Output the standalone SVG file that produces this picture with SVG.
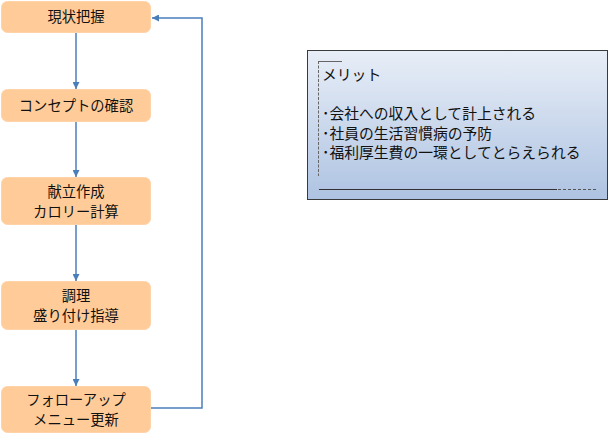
<svg xmlns="http://www.w3.org/2000/svg" width="611" height="434" viewBox="0 0 611 434">
<defs>
<style>
.box{fill:#ffcc99;stroke:#ffd3a8;stroke-width:1}
.t{font-family:"Noto Sans CJK JP","Noto Sans CJK SC",sans-serif;font-size:14.3px;fill:#111;text-anchor:middle}
.m{font-family:"Noto Sans CJK JP","Noto Sans CJK SC",sans-serif;font-size:14.8px;fill:#111}
.c{fill:none;stroke:#4a7ebb;stroke-width:1.5}
</style>
<marker id="ah" viewBox="0 0 10 10" refX="10" refY="5" markerWidth="7" markerHeight="7" markerUnits="userSpaceOnUse" orient="auto">
<path d="M0,0 L10,5 L0,10 z" fill="#4a7ebb"/>
</marker>
<linearGradient id="g" x1="0" y1="0" x2="0" y2="1">
<stop offset="0" stop-color="#e8eef7"/>
<stop offset="1" stop-color="#aec3e2"/>
</linearGradient>
</defs>
<g id="connectors">
<line class="c" x1="76" y1="33" x2="76" y2="89" marker-end="url(#ah)"/>
<line class="c" x1="76" y1="122" x2="76" y2="177" marker-end="url(#ah)"/>
<line class="c" x1="76" y1="225" x2="76" y2="281" marker-end="url(#ah)"/>
<line class="c" x1="76" y1="330" x2="76" y2="386" marker-end="url(#ah)"/>
<polyline class="c" points="151,408 202,408 202,18 152,18" marker-end="url(#ah)"/>
</g>
<g id="n1"><rect class="box" x="1.5" y="1.5" width="149" height="31" rx="6"/><text class="t" x="76" y="22">現状把握</text></g>
<g id="n2"><rect class="box" x="1.5" y="89.5" width="149" height="32" rx="6"/><text class="t" x="76" y="110.5">コンセプトの確認</text></g>
<g id="n3"><rect class="box" x="1.5" y="177.5" width="149" height="47" rx="6"/><text class="t" x="76" y="197">献立作成</text><text class="t" x="76" y="217">カロリー計算</text></g>
<g id="n4"><rect class="box" x="1.5" y="281.5" width="149" height="48" rx="6"/><text class="t" x="76" y="301">調理</text><text class="t" x="76" y="321">盛り付け指導</text></g>
<g id="n5"><rect class="box" x="1.5" y="386.5" width="149" height="46" rx="6"/><text class="t" x="76" y="405">フォローアップ</text><text class="t" x="76" y="425">メニュー更新</text></g>
<g id="merit">
<rect x="307.5" y="50.5" width="300" height="149" fill="url(#g)" stroke="#3a3a3a" stroke-width="1"/>
<line x1="318.5" y1="61" x2="318.5" y2="176" stroke="#666" stroke-width="1" stroke-dasharray="3,1.5"/>
<line x1="318" y1="61.5" x2="342" y2="61.5" stroke="#666" stroke-width="1"/>
<line x1="319" y1="189.5" x2="557" y2="189.5" stroke="#333" stroke-width="1"/>
<line x1="558" y1="189.5" x2="598" y2="189.5" stroke="#555" stroke-width="1" stroke-dasharray="3,2"/>
<text class="m" x="322" y="80">メリット</text>
<text class="m" x="322" y="119">･会社への収入として計上される</text>
<text class="m" x="322" y="138.5">･社員の生活習慣病の予防</text>
<text class="m" x="322" y="158">･福利厚生費の一環としてとらえられる</text>
</g>
</svg>
